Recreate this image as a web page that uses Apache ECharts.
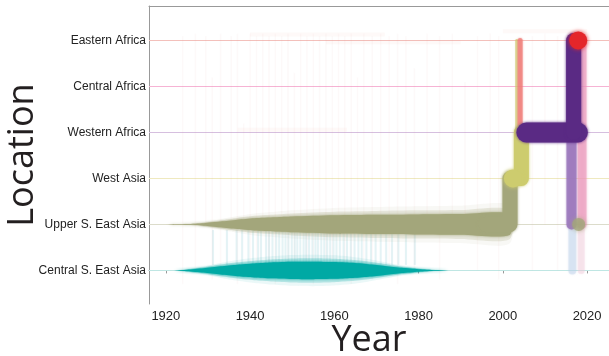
<!DOCTYPE html>
<html><head><meta charset="utf-8">
<script src="https://cdn.jsdelivr.net/npm/echarts@6/dist/echarts.min.js"></script>
<style>html,body{margin:0;padding:0;background:#fff}#c{width:609px;height:356px}</style>
</head><body><div id="c"></div>
<script>
// ---- data ----
const locations = ['Central S. East Asia','Upper S. East Asia','West Asia','Western Africa','Central Africa','Eastern Africa'];
const yearTicks = [1920,1940,1960,1980,2000,2020];
const locationIndex = [0,1,2,3,4,5];

// relative lineage density through time at a location
const tealDensity = [[1922,0],[1925,0.08],[1929,0.25],[1933,0.48],[1937,0.66],[1941,0.8],[1945,0.9],[1950,0.98],[1955,1.0],[1960,0.96],[1964,0.87],[1968,0.72],[1972,0.52],[1976,0.3],[1980,0.14],[1984,0.04],[1987,0]];
const oliveDensity = [[1920,0],[1925,0.04],[1929,0.12],[1933,0.27],[1937,0.44],[1941,0.58],[1946,0.67],[1950,0.74],[1960,0.86],[1970,0.91],[1980,0.95],[1990,0.98],[2001.6,1.0]];

// location transitions: [year, location index]
const oliveJump  = [[1996,1],[2001.7,1],[2001.7,2]];
const yellowJump = [[2002.4,2],[2004.4,2],[2004.4,3]];
const yellowThin = [[2003.3,3],[2003.3,5]];
const redJump    = [[2004.1,3],[2004.1,5]];
const purpleStay = [[2005.6,3],[2017.8,3]];
const purpleJump = [[2016.8,3],[2016.8,5]];
const purpleBack = [[2016.3,1],[2016.3,3]];
const pinkJump   = [[2018.8,1],[2018.8,5]];
const paleDrop   = [[2016.5,0],[2016.5,1]];
const paleDrop2  = [[2018.6,0],[2018.6,1]];
const redTip     = [[2017.9,5]];
const yellowNode = [[2002.4,2]];
const oliveNode  = [[2018.0,1]];

// faint posterior branches: [year, from location, to location]
const faintLines = [[1924,-0.3,5.1],[1927,0,5.15],[1929.5,1,5.1],[1931,-0.2,4.2],[1933,0,5.15],[1935.5,1,5.1],[1937,-0.3,5.15],[1938.5,1,3.2],[1940,0,5.15],[1941.5,-0.2,5.1],[1943,1,5.15],[1944.5,0,5.1],[1946,-0.3,5.15],[1947.5,1,5.1],[1949,0,5.15],[1950.5,-0.2,4.3],[1952,1,5.15],[1953.5,0,5.1],[1955,-0.3,5.15],[1956.5,1,5.1],[1958,0,5.15],[1959.5,-0.2,5.1],[1961,1,5.15],[1962.5,0,5.1],[1964,-0.3,5.15],[1965.5,1,4.2],[1967,0,5.15],[1969,-0.2,5.1],[1971,1,5.15],[1973,0,5.1],[1975,-0.3,5.15],[1977,1,5.1],[1979,0,4.4],[1982,1,5.15],[1985,-0.2,5.1],[1988,1,5.15],[1991,1,4.1],[1994,0,5.1],[1997,1,5.15],[1999,-0.2,5.1],[2007,0,5.1],[2010,1,5.15],[2013,0,5.1]];
const faintStays = [[1940,1972,5.13],[1937,1963,3.06],[1958,1990,4.96],[2000,2020,5.2]];
const tealDrops = [1931.2,1934.5,1936.8,1938.1,1939.6,1940.7,1941.9,1942.6,1943.8,1944.5,1945.3,1946.2,1946.9,1947.7,1948.4,1949.1,1949.9,1950.6,1951.2,1951.9,1952.7,1953.3,1954.0,1954.8,1955.5,1956.1,1956.9,1957.6,1958.3,1959.0,1959.8,1960.5,1961.3,1962.2,1963.0,1963.9,1964.8,1965.7,1966.5,1967.6,1968.7,1969.8,1971.0,1972.3,1973.7,1975.2,1977.0,1979.1];

// ---- styles ----
const lineColors = ['#bfe6e3','#dcdccb','#efe9bf','#d6bfdf','#f6b3d4','#f3c0bb'];
const TEAL='#00a9a4', OLIVE='#a3a67b', YELLOW='#cdcc6e', PURPLE='#5a2a84', LPURPLE='#9b77bb', RED='#e4262b', PINK='#e993b8';
const bandDefs = [
  {loc:0, color:TEAL, maxW:0.38, profile:tealDensity},
  {loc:1, color:OLIVE, maxW:0.46, profile:oliveDensity}
];

function pathSeries(data, color, width, opacity, z, blur){
  return {type:'line', data, symbol:'none', silent:true, z,
    lineStyle:{color, width, opacity, cap:'round', join:'round', shadowBlur: blur==null?3:blur, shadowColor:color}};
}
function dot(data, color, size, opacity, z){
  return {type:'scatter', data, symbolSize:size, silent:true, z,
    itemStyle:{color, opacity, shadowBlur:4, shadowColor:color}};
}

const chart = echarts.init(document.getElementById('c'), null, {renderer:'canvas'});
const option = {
  animation:false,
  backgroundColor:'#fff',
  grid:{left:149, right:0, top:6, bottom:52, containLabel:false, outerBoundsMode:'none'},
  xAxis:[{
    type:'value', min:1916, max:2025.2,
    axisLine:{show:true, lineStyle:{color:'#999', width:1}},
    axisTick:{show:true, length:3, customValues:yearTicks, lineStyle:{color:'#999'}},
    axisLabel:{customValues:yearTicks, formatter:v=>String(v), fontSize:13, color:'#222', margin:6, fontFamily:'Liberation Sans'},
    splitLine:{show:false},
    name:'Year', nameLocation:'middle', nameGap:25, nameMoveOverlap:false,
    nameTextStyle:{fontSize:36, lineHeight:24, color:'#231f20', fontFamily:'Open Sans', padding:[0,20,0,0]}
  },{
    type:'value', position:'top', min:1916, max:2025.2,
    axisLine:{show:true, lineStyle:{color:'#999', width:1}},
    axisTick:{show:false}, axisLabel:{show:false}, splitLine:{show:false}
  }],
  yAxis:{
    type:'value', min:-0.73, max:5.75,
    axisLine:{show:true, lineStyle:{color:'#999', width:1}},
    axisTick:{show:false},
    axisLabel:{customValues:locationIndex, formatter:v=>locations[Math.round(v)], fontSize:12, color:'#222', margin:3, fontFamily:'Liberation Sans'},
    splitLine:{show:false},
    name:'Location', nameLocation:'middle', nameGap:108, nameRotate:90, nameMoveOverlap:false,
    nameTextStyle:{fontSize:36, color:'#231f20', fontFamily:'Open Sans'}
  },
  series:[
    {type:'custom', silent:true, z:1, data:locationIndex.map(i=>[i]),
      renderItem(params, api){
        const cs = params.coordSys; const v = api.value(0);
        const y = Math.round(api.coord([2000, v])[1]) + 0.5;
        return {type:'line', shape:{x1:cs.x, y1:y, x2:cs.x+cs.width, y2:y}, style:{stroke:lineColors[v], lineWidth:1}};
      }},
    {type:'custom', silent:true, z:2, data:faintLines,
      renderItem(params, api){
        const a = api.coord([api.value(0), api.value(1)]), b = api.coord([api.value(0), api.value(2)]);
        return {type:'line', shape:{x1:a[0], y1:a[1], x2:b[0], y2:b[1]}, style:{stroke:'rgba(215,175,175,0.06)', lineWidth:1.5, shadowBlur:2, shadowColor:'rgba(215,175,175,0.1)'}};
      }},
    {type:'custom', silent:true, z:2, data:faintStays,
      renderItem(params, api){
        const a = api.coord([api.value(0), api.value(2)]), b = api.coord([api.value(1), api.value(2)]);
        return {type:'line', shape:{x1:a[0], y1:a[1], x2:b[0], y2:b[1]}, style:{stroke:'rgba(240,180,170,0.08)', lineWidth:4}};
      }},
    {type:'custom', silent:true, z:2, data:tealDrops.map(y=>[y]),
      renderItem(params, api){
        const a = api.coord([api.value(0), 0.12]), b = api.coord([api.value(0), 0.88]);
        return {type:'line', shape:{x1:a[0], y1:a[1], x2:b[0], y2:b[1]}, style:{stroke:'rgba(60,165,180,0.12)', lineWidth:2, shadowBlur:2, shadowColor:'rgba(60,165,180,0.15)'}};
      }},
    {type:'custom', silent:true, z:3, data:[[0],[1]],
      renderItem(params, api){
        const b = bandDefs[api.value(0)];
        const layers = [[1.8,0.08],[1.4,0.22],[1.0,1]];
        return {type:'group', children: layers.map(([m,op])=>{
          const top=[], bot=[];
          b.profile.forEach(([yr,d])=>{
            const half = d*b.maxW*m/2;
            top.push(api.coord([yr, b.loc+half]));
            bot.unshift(api.coord([yr, b.loc-half]));
          });
          return {type:'polygon', shape:{points:top.concat(bot), smooth:0.25},
            style:{fill:b.color, opacity:op, shadowBlur:op===1?3:0, shadowColor:b.color}};
        })};
      }},
    pathSeries(paleDrop, '#b9cfe8', 8, 0.35, 4, 2),
    pathSeries(paleDrop2, '#f0c8d8', 7, 0.3, 4, 2),
    pathSeries(oliveJump, OLIVE, 15, 1, 4),
    pathSeries(yellowThin, YELLOW, 3, 0.5, 5, 1),
    pathSeries(redJump, '#f07c78', 5, 0.7, 5, 2),
    dot(yellowNode, YELLOW, 18, 1, 5),
    pathSeries(yellowJump, YELLOW, 15, 1, 5),
    pathSeries(pinkJump, PINK, 9, 0.55, 5, 3),
    pathSeries(purpleBack, LPURPLE, 10, 0.8, 5, 2),
    dot(oliveNode, OLIVE, 13, 0.75, 6),
    pathSeries(purpleStay, PURPLE, 20, 1, 6),
    pathSeries(purpleJump, PURPLE, 15, 1, 6),
    dot(redTip, RED, 18, 1, 7)
  ]
};
chart.setOption(option);
</script></body></html>
